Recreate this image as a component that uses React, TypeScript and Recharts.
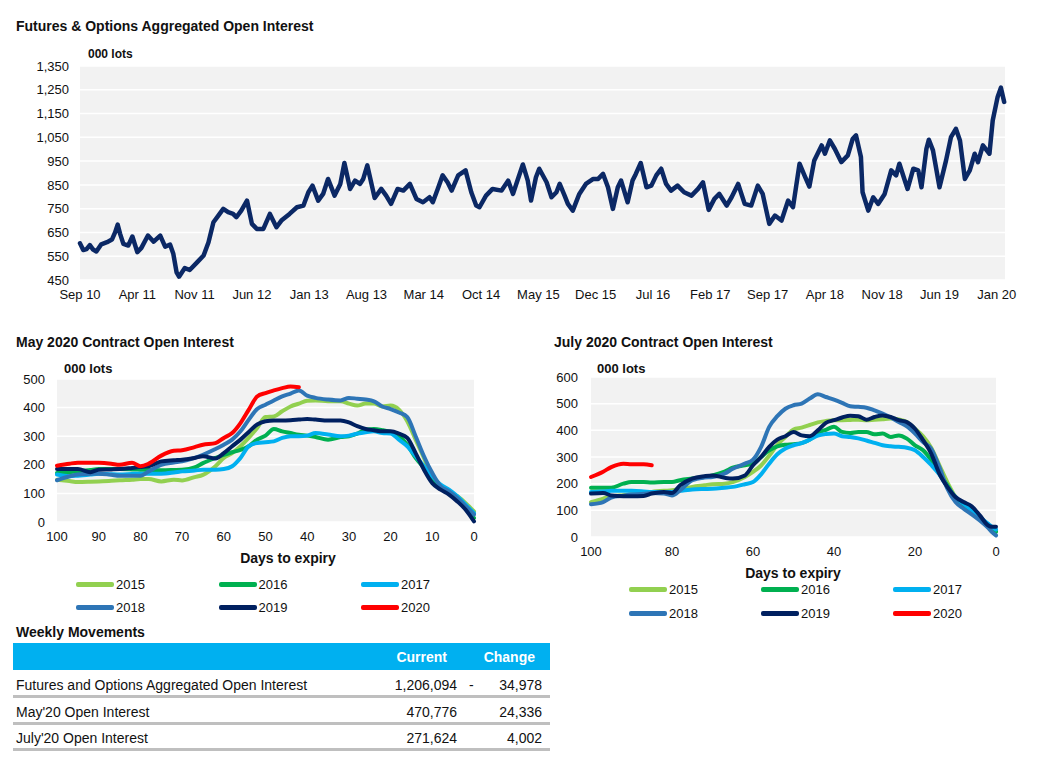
import { LineChart, Line, XAxis, YAxis, CartesianGrid } from 'recharts';

const FONT = '"Liberation Sans", Arial, sans-serif';
const TEXT = '#111';
const PLOT_BG = '#f2f2f2';

// Futures & Options aggregated open interest ('000 lots), x = months since Sep 2010
const aggMonths = [
  0, 0.4, 0.8, 1.2, 1.6, 2.0, 2.6, 3.3, 3.9, 4.3, 4.6, 4.9, 5.3, 5.9, 6.4, 7.0, 7.5, 8.3, 9.0, 9.8,
  10.4, 11.0, 11.4, 11.8, 12.1, 12.8, 13.4, 14.3, 15.1, 15.7, 16.3, 16.9, 17.5, 18.1, 18.7, 19.1, 19.7, 20.4, 21.0, 21.6,
  22.4, 23.2, 24.0, 24.6, 25.6, 26.5, 27.3, 27.9, 28.4, 29.1, 29.7, 30.3, 31.1, 31.8, 32.3, 33.0, 33.6, 34.2, 34.6, 35.1,
  36.0, 36.8, 37.4, 38.0, 38.8, 39.5, 40.3, 41.1, 41.9, 42.7, 43.1, 43.7, 44.3, 44.9, 45.4, 46.2, 47.1, 47.8, 48.4, 48.8,
  49.6, 50.4, 51.5, 52.3, 52.9, 53.5, 54.1, 54.7, 55.1, 55.7, 56.1, 57.0, 57.6, 58.2, 58.6, 59.2, 59.6, 60.2, 61.0, 61.8,
  62.7, 63.3, 63.9, 64.5, 65.1, 65.7, 66.1, 66.9, 67.5, 67.9, 68.5, 69.2, 69.8, 70.4, 71.0, 71.6, 72.2, 73.0, 73.8, 74.7,
  75.5, 76.1, 76.8, 77.5, 78.1, 79.0, 79.6, 80.4, 81.2, 82.0, 82.8, 83.4, 84.2, 84.9, 85.7, 86.5, 87.1, 87.9, 88.5, 89.1,
  89.7, 90.6, 91.0, 91.6, 92.2, 93.0, 93.8, 94.4, 94.8, 95.4, 95.6, 96.3, 96.9, 97.5, 98.3, 99.1, 99.7, 100.1, 100.7, 101.1,
  101.8, 102.4, 102.8, 103.4, 103.7, 104.2, 105.0, 105.8, 106.4, 107.0, 107.5, 108.1, 108.7, 109.3, 109.7, 110.3, 111.1, 111.5, 112.1, 112.5,
  112.9,
];
const aggOI = [
  604, 576, 580, 597, 578, 570, 600, 609, 620, 651, 683, 644, 602, 595, 633, 567, 585, 637, 611, 637,
  590, 599, 560, 482, 464, 500, 492, 524, 553, 609, 693, 721, 749, 735, 728, 714, 742, 784, 686, 665,
  665, 728, 672, 700, 728, 756, 763, 819, 847, 784, 812, 875, 805, 854, 942, 833, 868, 854, 875, 932,
  795, 833, 805, 770, 833, 826, 854, 791, 777, 798, 777, 833, 890, 861, 826, 890, 911, 819, 763, 756,
  805, 833, 826, 868, 812, 875, 936, 868, 784, 882, 918, 861, 798, 819, 854, 805, 770, 742, 812, 854,
  875, 875, 896, 840, 749, 840, 868, 777, 868, 896, 942, 840, 847, 890, 918, 854, 826, 847, 819, 805,
  833, 861, 745, 791, 812, 763, 798, 854, 770, 763, 847, 812, 686, 721, 700, 784, 756, 939, 890, 843,
  953, 1016, 981, 1037, 1002, 946, 974, 1044, 1058, 967, 819, 742, 798, 770, 812, 911, 890, 939, 875, 833,
  918, 911, 840, 1002, 1040, 995, 840, 953, 1051, 1086, 1037, 875, 911, 981, 946, 1016, 981, 1121, 1220, 1259,
  1199,
];
const aggTickLabels = [
  'Sep 10', 'Apr 11', 'Nov 11', 'Jun 12', 'Jan 13', 'Aug 13', 'Mar 14', 'Oct 14', 'May 15',
  'Dec 15', 'Jul 16', 'Feb 17', 'Sep 17', 'Apr 18', 'Nov 18', 'Jun 19', 'Jan 20',
];
const aggTickMonths = aggTickLabels.map((_, i) => i * 7);
const aggYTicks = [450, 550, 650, 750, 850, 950, 1050, 1150, 1250, 1350];

const years = ['2015', '2016', '2017', '2018', '2019', '2020'];
const yearColors = ['#92d050', '#00b050', '#00b0f0', '#2e75b6', '#002060', '#ff0000'];

// May contract open interest by days to expiry
const mayDays = [100, 97, 95, 92, 90, 87, 85, 82, 80, 78, 75, 72, 70, 67, 65, 62, 60, 58, 56, 54, 52, 50, 48, 46, 44, 42, 40, 38, 35, 32, 30, 28, 26, 24, 22, 20, 18, 16, 14, 12, 10, 8, 6, 4, 2, 0];
const may2015 = [148, 143, 140, 141, 142, 144, 146, 148, 150, 150, 142, 148, 145, 157, 165, 195, 224, 241, 265, 295, 329, 367, 369, 387, 404, 414, 424, 425, 422, 422, 414, 407, 414, 414, 404, 407, 393, 352, 288, 224, 154, 125, 107, 90, 66, 37];
const may2016 = [171, 175, 177, 182, 185, 185, 185, 184, 183, 182, 181, 182, 183, 191, 206, 224, 235, 244, 252, 265, 288, 302, 325, 317, 311, 305, 302, 297, 288, 297, 300, 309, 323, 325, 321, 314, 300, 270, 224, 189, 148, 119, 101, 78, 49, 14];
const may2017 = [166, 160, 162, 166, 169, 167, 166, 168, 169, 169, 169, 173, 177, 180, 183, 183, 185, 195, 224, 265, 276, 279, 282, 294, 300, 300, 302, 311, 306, 300, 302, 309, 314, 317, 311, 309, 288, 265, 230, 195, 160, 131, 113, 90, 61, 31];
const may2018 = [146, 160, 166, 168, 169, 165, 162, 162, 162, 177, 200, 208, 212, 224, 235, 255, 270, 288, 317, 358, 395, 410, 425, 439, 449, 460, 442, 434, 428, 425, 434, 431, 428, 422, 404, 395, 383, 367, 300, 230, 171, 125, 107, 84, 55, 26];
const may2019 = [185, 185, 185, 174, 183, 184, 185, 189, 192, 195, 212, 216, 218, 224, 230, 222, 241, 265, 288, 315, 341, 352, 355, 355, 356, 358, 360, 358, 355, 355, 348, 335, 325, 321, 317, 317, 309, 294, 241, 183, 136, 113, 96, 72, 43, 2];
const may2020 = [197, 204, 207, 207, 207, 204, 200, 207, 195, 204, 232, 249, 251, 262, 270, 276, 294, 311, 346, 393, 439, 451, 460, 468, 474, 471];
const mayTicks = [100, 90, 80, 70, 60, 50, 40, 30, 20, 10, 0];
const mayYTicks = [0, 100, 200, 300, 400, 500];

// July contract open interest by days to expiry
const julDays = [100, 97, 95, 92, 90, 87, 85, 82, 80, 78, 75, 72, 70, 67, 65, 62, 60, 58, 56, 54, 52, 50, 48, 46, 44, 42, 40, 38, 36, 34, 32, 30, 28, 26, 24, 22, 20, 18, 16, 14, 12, 10, 8, 6, 4, 2, 1, 0];
const jul2015 = [131, 144, 152, 157, 160, 165, 169, 173, 175, 179, 188, 194, 198, 200, 206, 225, 244, 268, 305, 345, 375, 403, 410, 420, 430, 435, 438, 438, 439, 440, 438, 440, 442, 444, 441, 431, 406, 378, 335, 270, 205, 150, 119, 95, 70, 45, 35, 25];
const jul2016 = [185, 185, 185, 200, 206, 206, 204, 206, 206, 213, 219, 225, 231, 245, 260, 269, 275, 300, 325, 340, 346, 348, 352, 365, 390, 402, 413, 394, 390, 394, 394, 385, 388, 375, 381, 369, 344, 325, 288, 238, 194, 144, 115, 95, 70, 45, 30, 19];
const jul2017 = [169, 171, 173, 173, 173, 171, 169, 169, 169, 173, 178, 180, 181, 185, 188, 198, 206, 235, 275, 310, 332, 344, 352, 365, 380, 386, 388, 378, 375, 370, 362, 353, 344, 340, 338, 335, 325, 300, 270, 235, 188, 150, 125, 100, 75, 50, 38, 28];
const jul2018 = [123, 131, 148, 155, 159, 162, 165, 163, 156, 175, 213, 223, 225, 238, 256, 275, 290, 338, 413, 453, 481, 494, 500, 519, 535, 525, 515, 503, 490, 488, 485, 475, 463, 448, 431, 415, 388, 356, 331, 263, 181, 131, 106, 85, 62, 35, 19, 6];
const jul2019 = [163, 165, 156, 153, 153, 154, 163, 169, 165, 194, 219, 228, 231, 222, 219, 231, 269, 300, 338, 365, 378, 394, 381, 378, 400, 428, 438, 448, 455, 453, 440, 450, 456, 450, 438, 431, 406, 363, 313, 238, 188, 150, 131, 115, 81, 44, 38, 38];
const jul2020 = [225, 245, 262, 275, 273, 273, 269];
const julTicks = [100, 80, 60, 40, 20, 0];
const julYTicks = [0, 100, 200, 300, 400, 500, 600];

// weekly movements table
const rowLabels = ['Futures and Options Aggregated Open Interest', "May'20 Open Interest", "July'20 Open Interest"];
const rowCurrent = ['1,206,094', '470,776', '271,624'];
const rowSign = ['-', '', ''];
const rowChange = ['34,978', '24,336', '4,002'];

const aggData = aggMonths.map((m, i) => ({ m, oi: aggOI[i] }));
const maySeries = [may2015, may2016, may2017, may2018, may2019, may2020];
const julSeries = [jul2015, jul2016, jul2017, jul2018, jul2019, jul2020];
const buildRows = (days: number[], series: number[][]) =>
  days.map((d, i) => {
    const row: Record<string, number | undefined> = { d };
    years.forEach((y, k) => { row[y] = series[k][i]; });
    return row;
  });
const mayData = buildRows(mayDays, maySeries);
const julData = buildRows(julDays, julSeries);

const tick = { fontSize: 13, fill: TEXT, fontFamily: FONT };

function Title({ text, left, top }: { text: string; left: number; top: number }) {
  return <div style={{ position: 'absolute', left, top, fontSize: 14, fontWeight: 'bold', color: TEXT, lineHeight: '16px', whiteSpace: 'nowrap' }}>{text}</div>;
}

function Note({ text, left, top, size = 12 }: { text: string; left: number; top: number; size?: number }) {
  return <div style={{ position: 'absolute', left, top, fontSize: size, fontWeight: 'bold', color: TEXT, lineHeight: '14px', whiteSpace: 'nowrap' }}>{text}</div>;
}

function YearLegend({ left, top, colGap, rowGap }: { left: number; top: number; colGap: number; rowGap: number }) {
  return (
    <>
      {years.map((y, i) => (
        <div key={y} style={{ position: 'absolute', left: left + (i % 3) * colGap, top: top + Math.floor(i / 3) * rowGap, display: 'flex', alignItems: 'center', height: 16 }}>
          <div style={{ width: 38, height: 5, borderRadius: 2, background: yearColors[i] }} />
          <span style={{ fontSize: 13, marginLeft: 2, color: TEXT }}>{y}</span>
        </div>
      ))}
    </>
  );
}

function ContractChart({ data, width, height, margin, yWidth, yTicks, xTicks, yMax, yTickMargin }: any) {
  return (
    <LineChart width={width} height={height} data={data} margin={margin}>
      <CartesianGrid vertical={false} stroke="#ffffff" strokeWidth={1.5} fill={PLOT_BG} />
      <XAxis dataKey="d" type="number" domain={[0, 100]} reversed ticks={xTicks} interval={0}
        axisLine={false} tickLine={false} tick={tick} tickMargin={4} height={25} />
      <YAxis type="number" domain={[0, yMax]} ticks={yTicks} interval={0} width={yWidth}
        axisLine={false} tickLine={false} tick={tick} tickMargin={yTickMargin} />
      {years.map((y, i) => (
        <Line key={y} type="monotone" dataKey={y} stroke={yearColors[i]} strokeWidth={4} dot={false}
          strokeLinecap="round" strokeLinejoin="round" isAnimationActive={false} />
      ))}
    </LineChart>
  );
}

export default function App() {
  return (
    <div style={{ position: 'absolute', left: 0, top: 0, width: 1056, height: 768, background: '#fff', fontFamily: FONT, overflow: 'hidden' }}>
      <Title text="Futures & Options Aggregated Open Interest" left={16} top={18} />
      <Note text="000 lots" left={88} top={47} />
      <div style={{ position: 'absolute', left: 0, top: 0 }}>
        <LineChart width={1056} height={310} data={aggData} margin={{ top: 66, right: 51, bottom: 0, left: 0 }}>
          <CartesianGrid vertical={false} stroke="#ffffff" strokeWidth={1.5} fill={PLOT_BG} />
          <XAxis dataKey="m" type="number" domain={[0, 113]} ticks={aggTickMonths} interval={0}
            tickFormatter={(v: number) => aggTickLabels[Math.round(v / 7)]}
            axisLine={false} tickLine={false} tick={tick} tickMargin={4} height={30} />
          <YAxis type="number" domain={[450, 1350]} ticks={aggYTicks} interval={0} width={80}
            tickFormatter={(v: number) => v.toLocaleString('en-US')}
            axisLine={false} tickLine={false} tick={tick} tickMargin={5} />
          <Line type="linear" dataKey="oi" stroke="#0b2865" strokeWidth={4.5} dot={false}
            strokeLinejoin="round" strokeLinecap="round" isAnimationActive={false} />
        </LineChart>
      </div>

      <Title text="May 2020 Contract Open Interest" left={16} top={334} />
      <Note text="000 lots" left={64} top={362} size={13} />
      <div style={{ position: 'absolute', left: 0, top: 330 }}>
        <ContractChart data={mayData} width={500} height={217} margin={{ top: 49, right: 26, bottom: 0, left: 0 }}
          yWidth={57} yTicks={mayYTicks} xTicks={mayTicks} yMax={500} yTickMargin={6} />
      </div>
      <div style={{ position: 'absolute', left: 238, top: 550, width: 100, textAlign: 'center', fontSize: 14, fontWeight: 'bold', color: TEXT, whiteSpace: 'nowrap' }}>Days to expiry</div>
      <YearLegend left={76} top={576} colGap={142.5} rowGap={23} />

      <Title text="July 2020 Contract Open Interest" left={554} top={334} />
      <Note text="000 lots" left={597} top={362} size={13} />
      <div style={{ position: 'absolute', left: 540, top: 330 }}>
        <ContractChart data={julData} width={500} height={232} margin={{ top: 47, right: 44, bottom: 0, left: 0 }}
          yWidth={51} yTicks={julYTicks} xTicks={julTicks} yMax={600} yTickMargin={7} />
      </div>
      <div style={{ position: 'absolute', left: 743, top: 565, width: 100, textAlign: 'center', fontSize: 14, fontWeight: 'bold', color: TEXT, whiteSpace: 'nowrap' }}>Days to expiry</div>
      <YearLegend left={629} top={581} colGap={132} rowGap={24} />

      <Title text="Weekly Movements" left={16} top={624} />
      <div style={{ position: 'absolute', left: 13, top: 643, width: 537, height: 27, background: '#00b0f0' }}>
        <span style={{ position: 'absolute', right: 550 - 447, top: 6, fontSize: 14, fontWeight: 'bold', color: '#fff' }}>Current</span>
        <span style={{ position: 'absolute', right: 550 - 535, top: 6, fontSize: 14, fontWeight: 'bold', color: '#fff' }}>Change</span>
      </div>
      {rowLabels.map((label, i) => {
        const top = 676 + i * 26.5;
        return (
          <div key={label} style={{ position: 'absolute', left: 13, top, width: 537, height: 19, borderBottom: '3px solid #bfbfbf', fontSize: 14, color: TEXT, lineHeight: '18px' }}>
            <span style={{ position: 'absolute', left: 3 }}>{label}</span>
            <span style={{ position: 'absolute', right: 550 - 457 }}>{rowCurrent[i]}</span>
            <span style={{ position: 'absolute', left: 456 }}>{rowSign[i]}</span>
            <span style={{ position: 'absolute', right: 550 - 542 }}>{rowChange[i]}</span>
          </div>
        );
      })}
    </div>
  );
}
